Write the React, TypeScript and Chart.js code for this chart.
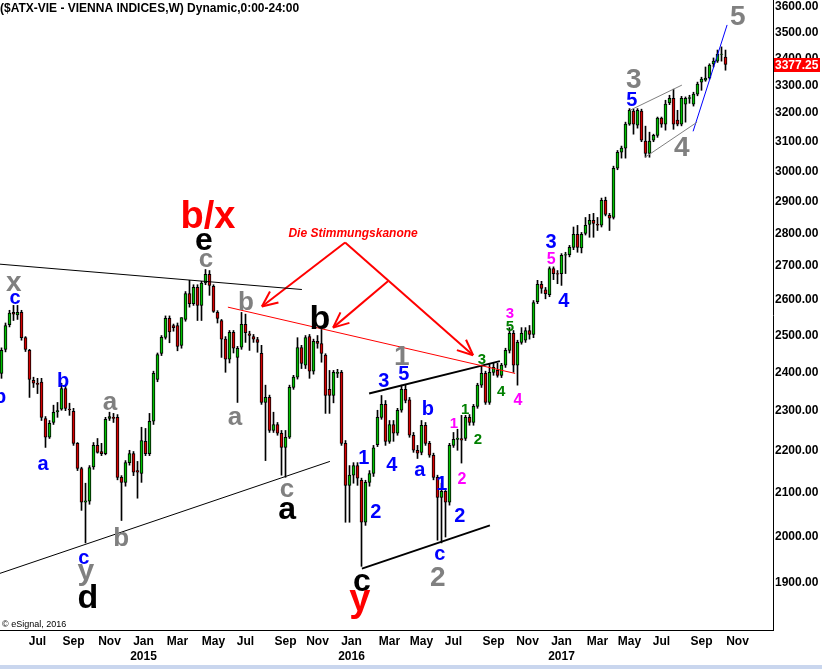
import React, { useEffect, useRef } from 'react';
import { Chart, registerables } from 'chart.js';

Chart.register(...registerables);

const FONT = '"Liberation Sans", Arial, Helvetica, sans-serif';
const GREEN = '#00c000';
const RED = '#d40000';
const GREY = '#808080';
const BLUE = '#0000ff';
const MAGENTA = '#ff00ff';
const DKGREEN = '#008000';
const BLACK = '#000000';

const TITLE = '($ATX-VIE - VIENNA INDICES,W) Dynamic,0:00-24:00';

// weekly candles, index 0 = week ending 2 May 2014
const opens = [
  2397, 2462, 2530, 2565, 2558, 2565, 2494, 2459, 2379, 2371,
  2374, 2280, 2233, 2270, 2297, 2304, 2357, 2304, 2298, 2218,
  2157, 2078, 2080, 2161, 2213, 2198, 2193, 2280, 2283, 2283,
  2136, 2124, 2171, 2193, 2152, 2145, 2223, 2193, 2273, 2381,
  2451, 2495, 2548, 2528, 2528, 2473, 2545, 2619, 2590, 2637,
  2585, 2650, 2676, 2640, 2565, 2542, 2490, 2435, 2509, 2440,
  2468, 2531, 2505, 2497, 2489, 2451, 2321, 2334, 2250, 2265,
  2243, 2208, 2233, 2360, 2387, 2467, 2419, 2497, 2403, 2484,
  2478, 2446, 2355, 2339, 2397, 2400, 2218, 2117, 2141, 2164,
  2129, 2032, 2124, 2145, 2215, 2283, 2316, 2223, 2265, 2243,
  2301, 2355, 2328, 2238, 2201, 2196, 2263, 2218, 2189, 2136,
  2089, 2103, 2078, 2213, 2228, 2230, 2230, 2283, 2270, 2311,
  2366, 2397, 2321, 2400, 2405, 2392, 2419, 2459, 2506, 2419,
  2481, 2487, 2514, 2503, 2596, 2646, 2630, 2616, 2693, 2678,
  2678, 2733, 2735, 2757, 2797, 2755, 2800, 2828, 2841, 2828,
  2826, 2905, 2857, 2850, 3010, 3064, 3078, 3161, 3207, 3157,
  3207, 3102, 3060, 3105, 3122, 3182, 3161, 3236, 3253, 3175,
  3161, 3232, 3253, 3232, 3268, 3312, 3319, 3327, 3380, 3390,
  3415, 3405,
];

const highs = [
  2466, 2535, 2571, 2585, 2585, 2571, 2497, 2462, 2387, 2384,
  2384, 2285, 2275, 2314, 2321, 2371, 2366, 2319, 2306, 2220,
  2160, 2122, 2164, 2220, 2230, 2218, 2283, 2296, 2293, 2290,
  2140, 2176, 2201, 2198, 2174, 2258, 2255, 2293, 2403, 2452,
  2500, 2555, 2555, 2532, 2535, 2550, 2625, 2658, 2645, 2645,
  2655, 2690, 2687, 2645, 2570, 2545, 2497, 2514, 2514, 2470,
  2565, 2560, 2512, 2503, 2495, 2473, 2366, 2340, 2296, 2270,
  2250, 2250, 2366, 2392, 2494, 2473, 2500, 2503, 2490, 2500,
  2517, 2450, 2405, 2405, 2408, 2405, 2225, 2164, 2171, 2171,
  2134, 2129, 2152, 2213, 2301, 2339, 2326, 2275, 2275, 2306,
  2366, 2366, 2334, 2245, 2213, 2275, 2270, 2223, 2194, 2141,
  2122, 2105, 2218, 2245, 2253, 2288, 2288, 2290, 2316, 2371,
  2419, 2403, 2424, 2424, 2424, 2424, 2465, 2522, 2514, 2487,
  2522, 2522, 2528, 2599, 2658, 2655, 2637, 2698, 2698, 2687,
  2738, 2742, 2763, 2820, 2825, 2803, 2850, 2860, 2863, 2850,
  2912, 2915, 2863, 3017, 3070, 3085, 3168, 3216, 3214, 3216,
  3214, 3154, 3133, 3126, 3186, 3186, 3246, 3264, 3286, 3210,
  3260, 3258, 3264, 3275, 3312, 3330, 3368, 3380, 3402, 3432,
  3444, 3432,
];

const lows = [
  2384, 2455, 2524, 2542, 2545, 2487, 2456, 2334, 2360, 2344,
  2275, 2208, 2230, 2265, 2283, 2301, 2300, 2288, 2213, 2152,
  2059, 1986, 2073, 2155, 2194, 2188, 2190, 2275, 2270, 2130,
  2036, 2115, 2165, 2140, 2087, 2124, 2188, 2188, 2265, 2375,
  2445, 2490, 2480, 2512, 2458, 2465, 2540, 2580, 2585, 2542,
  2542, 2645, 2614, 2565, 2535, 2440, 2400, 2425, 2452, 2321,
  2462, 2481, 2459, 2481, 2454, 2316, 2176, 2245, 2245, 2238,
  2141, 2136, 2230, 2355, 2382, 2410, 2410, 2384, 2395, 2465,
  2427, 2293, 2293, 2320, 2386, 2213, 2032, 2032, 2122, 2117,
  1935, 2025, 2115, 2138, 2210, 2278, 2213, 2218, 2223, 2238,
  2296, 2320, 2233, 2196, 2181, 2190, 2213, 2184, 2130, 1992,
  1986, 1999, 2071, 2208, 2201, 2170, 2225, 2263, 2263, 2306,
  2360, 2316, 2316, 2392, 2387, 2386, 2413, 2452, 2400, 2366,
  2476, 2481, 2490, 2494, 2590, 2620, 2604, 2610, 2660, 2648,
  2643, 2678, 2728, 2750, 2742, 2740, 2795, 2788, 2788, 2809,
  2820, 2855, 2809, 2845, 3005, 3044, 3044, 3157, 3126, 3147,
  3100, 3047, 3047, 3100, 3115, 3150, 3140, 3230, 3143, 3155,
  3155, 3168, 3235, 3225, 3262, 3282, 3315, 3323, 3368, 3385,
  3390, 3356,
];

const closes = [
  2459, 2528, 2563, 2560, 2565, 2494, 2462, 2381, 2371, 2368,
  2283, 2233, 2268, 2296, 2300, 2357, 2306, 2302, 2218, 2157,
  2078, 2081, 2159, 2213, 2196, 2193, 2278, 2285, 2280, 2136,
  2124, 2171, 2193, 2148, 2148, 2225, 2193, 2273, 2397, 2448,
  2495, 2548, 2510, 2522, 2470, 2550, 2619, 2590, 2637, 2585,
  2650, 2676, 2643, 2568, 2548, 2490, 2435, 2509, 2465, 2465,
  2531, 2508, 2500, 2490, 2481, 2321, 2334, 2250, 2265, 2243,
  2208, 2233, 2360, 2387, 2467, 2424, 2494, 2403, 2484, 2478,
  2451, 2339, 2339, 2400, 2400, 2218, 2117, 2141, 2164, 2134,
  2032, 2124, 2145, 2207, 2283, 2316, 2223, 2265, 2243, 2301,
  2355, 2326, 2238, 2201, 2194, 2263, 2218, 2189, 2136, 2089,
  2103, 2078, 2213, 2228, 2231, 2226, 2283, 2270, 2311, 2366,
  2397, 2321, 2400, 2413, 2392, 2419, 2459, 2506, 2419, 2481,
  2506, 2514, 2503, 2593, 2646, 2634, 2619, 2693, 2678, 2676,
  2733, 2735, 2757, 2797, 2757, 2797, 2825, 2841, 2831, 2826,
  2905, 2860, 2848, 3010, 3064, 3078, 3161, 3210, 3161, 3210,
  3105, 3060, 3102, 3122, 3182, 3161, 3232, 3253, 3161, 3161,
  3253, 3253, 3256, 3268, 3305, 3323, 3327, 3375, 3390, 3417,
  3417, 3377.25,
];

const monthTickPos = [9, 18, 27, 35.5, 44, 53, 61, 71, 79, 87.5, 97, 105, 113, 123, 131.5, 140, 149, 157, 165, 175, 184];
const monthLabels = ['Jul', 'Sep', 'Nov', 'Jan', 'Mar', 'May', 'Jul', 'Sep', 'Nov', 'Jan', 'Mar', 'May', 'Jul', 'Sep', 'Nov', 'Jan', 'Mar', 'May', 'Jul', 'Sep', 'Nov'];
const yearLabels = ['', '', '', '2015', '', '', '', '', '', '2016', '', '', '', '', '', '2017', '', '', '', '', ''];
const priceTicks = [1900, 2000, 2100, 2200, 2300, 2400, 2500, 2600, 2700, 2800, 2900, 3000, 3100, 3200, 3300, 3400, 3500, 3600];

// trend lines: [week index, price] end points
const trendLines = [
  { pts: [[-0.375, 2706], [75.1, 2631]], color: BLACK, width: 1 },
  { pts: [[-0.375, 1920], [82.1, 2174]], color: BLACK, width: 1 },
  { pts: [[56.6, 2580], [128.4, 2397]], color: '#ff0000', width: 1 },
  { pts: [[91.9, 2344], [124.6, 2430]], color: BLACK, width: 2 },
  { pts: [[90.1, 1930], [122.1, 2025]], color: BLACK, width: 2 },
  { pts: [[157.1, 3210], [170.1, 3301]], color: GREY, width: 1 },
  { pts: [[160.9, 3047], [173.9, 3168]], color: GREY, width: 1 },
  { pts: [[172.9, 3136], [181.4, 3529]], color: BLUE, width: 1 },
];

const arrowShafts = [
  [[85.9, 2772], [65.1, 2582]],
  [[85.9, 2772], [117.9, 2446]],
  [[96.6, 2655], [82.9, 2522]],
];

// wave labels: text, week index, price, colour, font size
const waveLabels: [string, number, number, string, number][] = [
  ['x', 3.1, 2649, GREY, 28],
  ['c', 3.4, 2605, BLUE, 20],
  ['b', -0.375, 2337, BLUE, 20],
  ['b', 15.4, 2381, BLUE, 20],
  ['a', 10.4, 2166, BLUE, 20],
  ['a', 27.1, 2319, GREY, 26],
  ['b', 29.9, 1999, GREY, 26],
  ['c', 20.6, 1952, BLUE, 20],
  ['y', 21.1, 1917, GREY, 30],
  ['d', 21.6, 1872, BLACK, 34],
  ['b/x', 51.6, 2860, '#ff0000', 38],
  ['e', 50.6, 2775, BLACK, 32],
  ['c', 51.1, 2717, GREY, 26],
  ['b', 61.1, 2599, GREY, 26],
  ['a', 58.4, 2280, GREY, 26],
  ['c', 71.4, 2105, GREY, 26],
  ['a', 71.4, 2059, BLACK, 32],
  ['b', 79.6, 2553, BLACK, 34],
  ['1', 100.1, 2446, GREY, 28],
  ['3', 95.6, 2379, BLUE, 20],
  ['5', 100.6, 2400, BLUE, 20],
  ['b', 106.6, 2308, BLUE, 20],
  ['1', 90.6, 2184, BLUE, 20],
  ['4', 97.6, 2169, BLUE, 20],
  ['a', 104.6, 2152, BLUE, 20],
  ['2', 93.6, 2057, BLUE, 20],
  ['1', 110.1, 2122, BLUE, 20],
  ['2', 114.6, 2050, BLUE, 20],
  ['c', 109.6, 1961, BLUE, 20],
  ['2', 109.1, 1915, GREY, 28],
  ['c', 90.1, 1901, BLACK, 32],
  ['y', 89.6, 1854, '#ff0000', 38],
  ['1', 113.1, 2270, MAGENTA, 15],
  ['2', 115.1, 2133, MAGENTA, 16],
  ['1', 115.9, 2306, DKGREEN, 15],
  ['2', 119.1, 2230, DKGREEN, 15],
  ['3', 120.1, 2438, DKGREEN, 15],
  ['4', 124.9, 2352, DKGREEN, 15],
  ['4', 129.1, 2329, MAGENTA, 16],
  ['3', 127.1, 2565, MAGENTA, 15],
  ['5', 127.1, 2528, DKGREEN, 15],
  ['3', 137.4, 2778, BLUE, 20],
  ['5', 137.4, 2723, MAGENTA, 16],
  ['4', 140.6, 2602, BLUE, 20],
  ['3', 158.1, 3326, GREY, 28],
  ['5', 157.6, 3253, BLUE, 20],
  ['4', 170.1, 3084, GREY, 28],
  ['5', 184.1, 3568, GREY, 28],
];

const commentText = 'Die Stimmungskanone';
const commentPos = [87.9, 2800];

function baselineFactor(t: string) {
  if (t === 'y') return 0.16;
  if (/^[acex]$/.test(t)) return 0.26;
  return 0.36;
}

const overlay = {
  id: 'overlay',
  beforeDraw(chart: any) {
    const { ctx, width, height } = chart;
    ctx.save();
    ctx.fillStyle = '#ffffff';
    ctx.fillRect(0, 0, width, height);
    ctx.restore();
  },
  afterDatasetsDraw(chart: any) {
    const { ctx } = chart;
    const xs = chart.scales.x;
    const ys = chart.scales.y;
    ctx.save();
    // arrow heads
    chart.data.datasets.forEach((ds: any, di: number) => {
      if (!ds.arrowHead) return;
      const pts = chart.getDatasetMeta(di).data;
      const p0 = pts[0];
      const p1 = pts[pts.length - 1];
      const ang = Math.atan2(p1.y - p0.y, p1.x - p0.x);
      ctx.strokeStyle = '#ff0000';
      ctx.lineWidth = 2;
      [-0.42, 0.42].forEach((d) => {
        ctx.beginPath();
        ctx.moveTo(p1.x, p1.y);
        ctx.lineTo(p1.x - 17 * Math.cos(ang + d), p1.y - 17 * Math.sin(ang + d));
        ctx.stroke();
      });
    });
    // wave labels
    ctx.textAlign = 'center';
    ctx.textBaseline = 'alphabetic';
    waveLabels.forEach(([t, xi, v, c, s]) => {
      ctx.font = `bold ${s}px ${FONT}`;
      ctx.fillStyle = c;
      const px = xs.getPixelForValue(xi);
      const py = ys.getPixelForValue(v) + baselineFactor(t) * s;
      ctx.fillText(t, px, py);
    });
    ctx.font = `italic bold 12px ${FONT}`;
    ctx.fillStyle = '#ff0000';
    ctx.fillText(commentText, xs.getPixelForValue(commentPos[0]), ys.getPixelForValue(commentPos[1]) + 4);
    ctx.restore();
  },
  afterDraw(chart: any) {
    const { ctx, chartArea, width } = chart;
    const ys = chart.scales.y;
    ctx.save();
    ctx.fillStyle = '#000';
    ctx.font = `bold 12px ${FONT}`;
    ctx.textAlign = 'left';
    ctx.textBaseline = 'alphabetic';
    ctx.fillText(TITLE, 0, 12);
    ctx.font = `9px ${FONT}`;
    ctx.fillText('\u00a9 eSignal, 2016', 2, 627);
    // last price tag
    const last = closes[closes.length - 1];
    const py = ys.getPixelForValue(last);
    ctx.fillStyle = '#ff0000';
    ctx.fillRect(chartArea.right + 1, Math.round(py) - 7, 46, 14);
    ctx.fillStyle = '#ffffff';
    ctx.font = `bold 12px ${FONT}`;
    ctx.textBaseline = 'middle';
    ctx.fillText(last.toFixed(2), chartArea.right + 2, Math.round(py) + 0.5);
    // bottom strip
    ctx.fillStyle = '#c9d6ee';
    ctx.fillRect(0, 665, width, 4);
    ctx.restore();
  },
};

export default function App() {
  const ref = useRef<HTMLCanvasElement>(null);
  useEffect(() => {
    document.body.style.margin = '0';
    const canvas = ref.current;
    if (!canvas) return;
    const idx = closes.map((_, i) => i);
    const datasets: any[] = [];
    trendLines.forEach((l) => {
      datasets.push({
        type: 'line',
        data: l.pts.map(([x, y]) => ({ x, y })),
        borderColor: l.color,
        borderWidth: l.width,
        pointRadius: 0,
        tension: 0,
        order: 1,
      });
    });
    arrowShafts.forEach((a) => {
      datasets.push({
        type: 'line',
        data: a.map(([x, y]) => ({ x, y })),
        borderColor: '#ff0000',
        borderWidth: 2,
        pointRadius: 0,
        tension: 0,
        order: 1,
        arrowHead: true,
      });
    });
    datasets.push({
      type: 'bar',
      data: idx.map((i) => ({ x: i, y: [opens[i], closes[i]] })),
      backgroundColor: (c: any) => (closes[c.dataIndex] >= opens[c.dataIndex] ? GREEN : RED),
      borderColor: '#000',
      borderWidth: 1,
      borderSkipped: false,
      barThickness: 3,
      grouped: false,
      order: 2,
    });
    datasets.push({
      type: 'bar',
      data: idx.map((i) => ({ x: i, y: [lows[i], highs[i]] })),
      backgroundColor: '#000',
      borderWidth: 0,
      barThickness: 1,
      grouped: false,
      order: 3,
    });

    const tickFont = { family: FONT, size: 12, weight: 'bold' as const, lineHeight: 1.25 };
    const chart = new Chart(canvas, {
      type: 'bar',
      data: { datasets },
      options: {
        responsive: false,
        animation: false,
        devicePixelRatio: 1,
        events: [],
        layout: { padding: 0, autoPadding: false },
        plugins: { legend: { display: false }, tooltip: { enabled: false }, title: { display: false } },
        scales: {
          x: {
            type: 'linear',
            position: 'bottom',
            min: -0.375,
            max: 192.875,
            bounds: 'data',
            offset: false,
            grid: { display: false, drawTicks: false, offset: false },
            border: { display: true, color: '#000', width: 1 },
            afterBuildTicks: (s: any) => {
              s.ticks = monthTickPos.map((v) => ({ value: v }));
            },
            afterFit: (s: any) => {
              s.height = 39;
              s.paddingLeft = 0;
              s.paddingRight = 0;
            },
            ticks: {
              autoSkip: false,
              maxRotation: 0,
              minRotation: 0,
              padding: 4,
              color: '#000',
              font: tickFont,
              callback: (_v: any, i: number) => (yearLabels[i] ? [monthLabels[i], yearLabels[i]] : monthLabels[i]),
            },
          },
          y: {
            type: 'logarithmic',
            position: 'right',
            min: 1803,
            max: 3628,
            bounds: 'data',
            grid: { display: false, drawTicks: false },
            border: { display: true, color: '#000', width: 1 },
            afterBuildTicks: (s: any) => {
              s.ticks = priceTicks.map((v) => ({ value: v }));
            },
            afterFit: (s: any) => {
              s.width = 49;
              s.paddingTop = 0;
              s.paddingBottom = 0;
            },
            ticks: {
              autoSkip: false,
              padding: 2,
              color: '#000',
              font: { family: FONT, size: 12, weight: 'bold' as const },
              callback: (v: any) => Number(v).toFixed(2),
            },
          },
        },
      } as any,
      plugins: [overlay],
    });
    return () => chart.destroy();
  }, []);
  return (
    <div style={{ width: 822, height: 669, position: 'relative', overflow: 'hidden' }}>
      <canvas ref={ref} width={822} height={669} style={{ display: 'block' }} />
    </div>
  );
}
